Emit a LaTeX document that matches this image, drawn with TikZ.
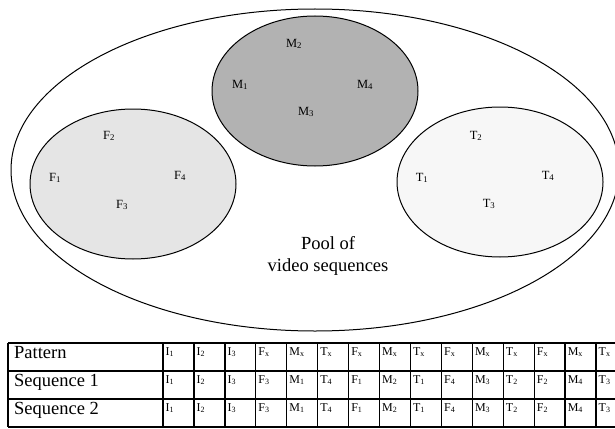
\documentclass[tikz,border=0pt]{standalone}
\usepackage{fontspec}
\setmainfont{Liberation Serif}
\usepackage{tikz}

\definecolor{mgray}{gray}{0.70}
\definecolor{fgray}{gray}{0.90}
\definecolor{tgray}{gray}{0.97}

\tikzset{
  lbl/.style={inner sep=0pt, font=\fontsize{12.5}{14}\selectfont},
  cell/.style={anchor=north west, inner sep=0pt, font=\fontsize{12}{14}\selectfont},
  rowhead/.style={anchor=north west, inner sep=0pt, font=\fontsize{18.5}{20}\selectfont},
  grid line/.style={line width=1.3pt}
}

\begin{document}
\begin{tikzpicture}[x=1pt,y=-1pt]
\useasboundingbox (0,0) rectangle (615,428);
\clip (0,0) rectangle (615,428);
%\draw[help lines] (0,0) grid (615,428);

% pool and the three groups
\draw [line width=1pt] (315,170) ellipse [x radius=304, y radius=161];
\draw [line width=1pt,fill=mgray] (315,91) ellipse [x radius=103, y radius=75];
\draw [line width=1pt,fill=fgray] (133,184) ellipse [x radius=103, y radius=75];
\draw [line width=1pt,fill=tgray] (500,182) ellipse [x radius=103, y radius=75];

\node (m2) at (294,44) [lbl] {M\textsubscript{2}};
\node (m1) at (240,85) [lbl] {M\textsubscript{1}};
\node (m4) at (365,85) [lbl] {M\textsubscript{4}};
\node (m3) at (306,112) [lbl] {M\textsubscript{3}};

\node (f2) at (109,136) [lbl] {F\textsubscript{2}};
\node (f1) at (55,178) [lbl] {F\textsubscript{1}};
\node (f4) at (180,176) [lbl] {F\textsubscript{4}};
\node (f3) at (122,205) [lbl] {F\textsubscript{3}};

\node (t2) at (476,136) [lbl] {T\textsubscript{2}};
\node (t1) at (422,178) [lbl] {T\textsubscript{1}};
\node (t4) at (548,176) [lbl] {T\textsubscript{4}};
\node (t3) at (489,204) [lbl] {T\textsubscript{3}};

\node (pool) at (328,256) [align=center, inner sep=0pt,
  font=\fontsize{18.5}{22}\selectfont] {Pool of\\video sequences};

% table
\foreach \y in {343,371,399,427}
  \draw [grid line] (8,\y) -- (615,\y);
\draw [grid line] (8,343) -- (8,427);
\foreach \k in {0,...,14}
  \draw [grid line] (163+\k*30.93,343) -- (163+\k*30.93,427);

\node (hpat) at (14,346) [rowhead] {Pattern};
\node (hseq1) at (14,374) [rowhead] {Sequence 1};
\node (hseq2) at (14,402) [rowhead] {Sequence 2};

\foreach \t [count=\i from 0] in {I\textsubscript{1},I\textsubscript{2},I\textsubscript{3},
    F\textsubscript{x},M\textsubscript{x},T\textsubscript{x},F\textsubscript{x},M\textsubscript{x},
    T\textsubscript{x},F\textsubscript{x},M\textsubscript{x},T\textsubscript{x},F\textsubscript{x},
    M\textsubscript{x},T\textsubscript{x}}
  \node (p\i) at (165.5+\i*30.93,347) [cell] {\t};

\foreach \t [count=\i from 0] in {I\textsubscript{1},I\textsubscript{2},I\textsubscript{3},
    F\textsubscript{3},M\textsubscript{1},T\textsubscript{4},F\textsubscript{1},M\textsubscript{2},
    T\textsubscript{1},F\textsubscript{4},M\textsubscript{3},T\textsubscript{2},F\textsubscript{2},
    M\textsubscript{4},T\textsubscript{3}}
  {\node (a\i) at (165.5+\i*30.93,375) [cell] {\t};
   \node (b\i) at (165.5+\i*30.93,403) [cell] {\t};}
\end{tikzpicture}
\end{document}
